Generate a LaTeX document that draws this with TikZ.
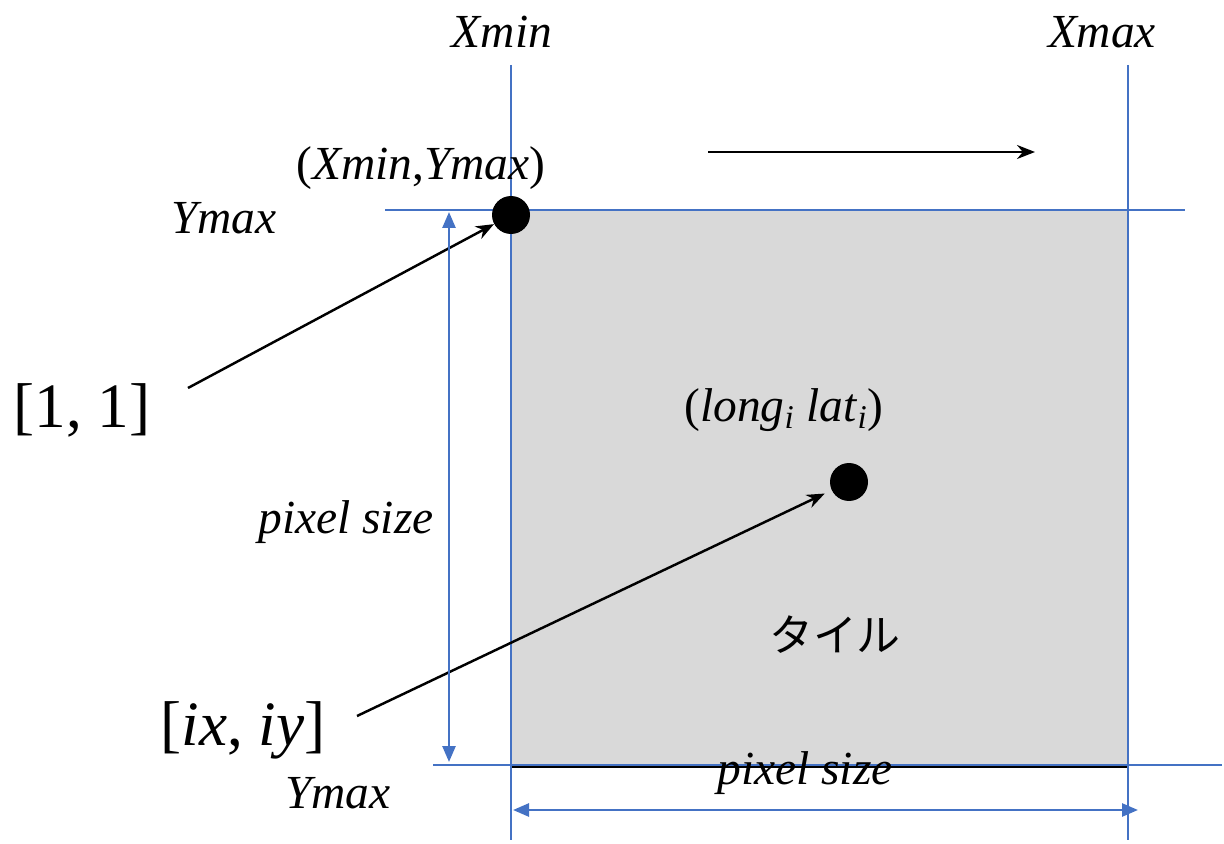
\documentclass[tikz,border=0pt]{standalone}
\usepackage{fontspec}
\setmainfont{LiberationSerif}[Extension=.ttf, UprightFont=*-Regular, ItalicFont=*-Italic, BoldFont=*-Bold, BoldItalicFont=*-BoldItalic]
\newfontfamily\jpfont{Noto Sans CJK JP}
\usepackage{tikz}
\usetikzlibrary{arrows.meta,positioning}
\definecolor{guideblue}{RGB}{68,114,196}
\definecolor{tilegray}{RGB}{217,217,217}
\tikzset{
  guide/.style={guideblue, line width=0.8pt},
  dimarrow/.style={{Triangle[length=3.2mm,width=2.6mm]}-{Triangle[length=3.2mm,width=2.6mm]}, guideblue, line width=1.5pt},
  pointer/.style={-{Stealth[length=3.6mm,width=2.8mm]}, black, line width=1.4pt},
  dot/.style={circle, fill=black, inner sep=0pt, minimum size=0.76cm},
  label/.style={font=\fontsize{27}{32}\selectfont\itshape, inner sep=0pt},
  biglabel/.style={font=\fontsize{36}{42}\selectfont, inner sep=0pt},
}
\begin{document}
\begin{tikzpicture}[x=0.02cm, y=-0.02cm]
\useasboundingbox (0,0) rectangle (1224,844);
% tile
\fill[tilegray] (511,210) rectangle (1128,765);
\draw[black, line width=1.2pt] (511,210) rectangle (1128,765);
\draw[black, line width=2.2pt] (511,766) -- (1128,766);
% guide lines
\draw[guide] (511,65) -- (511,840);
\draw[guide] (1128,65) -- (1128,840);
\draw[guide] (385,210) -- (1185,210);
\draw[guide] (433,765) -- (1222,765);
% points
\node[dot] (corner) at (511,215) {};
\node[dot] (center) at (849,482) {};
% labels
\node[label] (xmin) at (502,32) {Xmin};
\node[label] (xmax) at (1102,32) {Xmax};
\node[label, font=\fontsize{27}{32}\selectfont] (cornerlbl) at (421,168) {(\textit{Xmin},\textit{Ymax})};
\node[label] (ymaxtop) at (224,218) {Ymax};
\node[label] (ymaxbot) at (338,793) {Ymax};
\node[label] (psizev) at (346,522) {pixel size};
\node[label] (psizeh) at (805,773) {pixel size};
\node[label, font=\fontsize{27}{32}\selectfont] (lonlat) at (784,410)
  {(\textit{long}\textsubscript{\textit{i}} \textit{lat}\textsubscript{\textit{i}})};
\node[inner sep=0pt, font=\jpfont\fontsize{25}{30}\selectfont] (tile) at (835,635) {タイル};
\node[biglabel] (ones) at (82,410) {[1, 1]};
\node[biglabel] (ixiy) at (243,730) {[\textit{ix}, \textit{iy}]};
% free ends
\coordinate (onesend) at (188,388);
\coordinate (ixiyend) at (357,716);
\coordinate (dirfrom) at (708,152);
\coordinate (dirto) at (1035,152);
\coordinate (vtop) at (449,212);
\coordinate (vbot) at (449,762);
\coordinate (hleft) at (513,810);
\coordinate (hright) at (1138,810);
% connectors
\draw[pointer] (onesend) -- (corner);
\draw[pointer, shorten >=1.5mm] (ixiyend) -- (center);
\draw[pointer] (dirfrom) -- (dirto);
\draw[dimarrow] (vtop) -- (vbot);
\draw[dimarrow] (hleft) -- (hright);
\end{tikzpicture}
\end{document}
